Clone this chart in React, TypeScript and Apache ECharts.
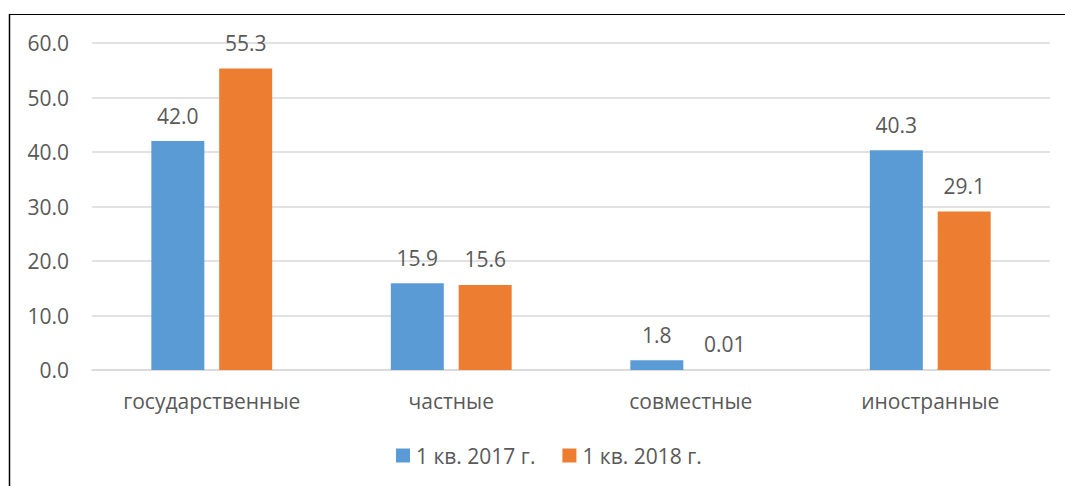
import React, { useEffect, useRef } from "react";
import * as echarts from "echarts";

const categories = ["государственные", "частные", "совместные", "иностранные"];
const values2017 = [42.0, 15.9, 1.8, 40.3];
const values2018 = [55.3, 15.6, 0.01, 29.1];
const seriesNames = ["1 кв. 2017 г.", "1 кв. 2018 г."];
const yTicks = { min: 0, max: 60, interval: 10 };

const FONT = "'Open Sans', sans-serif";
const TEXT = "#595959";
const FS = 21;

export default function App() {
  const ref = useRef<HTMLDivElement>(null);
  useEffect(() => {
    document.body.style.margin = "0";
    const chart = echarts.init(ref.current!, null, { renderer: "svg" });
    const fmt = (v: number) => (v < 0.1 ? v.toFixed(2) : v.toFixed(1));
    const label = {
      show: true,
      position: "top" as const,
      distance: 15,
      color: TEXT,
      fontSize: FS,
      fontFamily: FONT,
      formatter: (p: any) => fmt(p.value),
    };
    chart.setOption({
      animation: false,
      backgroundColor: "#fff",
      textStyle: { fontFamily: FONT },
      grid: { left: 92, right: 15, top: 43, bottom: 116, containLabel: false },
      legend: {
        left: 396,
        top: 445,
        padding: 0,
        itemWidth: 14,
        itemHeight: 14,
        itemGap: 27,
        icon: "rect",
        textStyle: { color: TEXT, fontSize: FS, fontFamily: FONT, padding: [0, 0, 0, 1] },
        data: seriesNames,
      },
      xAxis: {
        type: "category",
        data: categories,
        axisLine: { lineStyle: { color: "#D9D9D9", width: 1.5 } },
        axisTick: { show: false },
        axisLabel: { color: TEXT, fontSize: FS, fontFamily: FONT, margin: 20 },
      },
      yAxis: {
        type: "value",
        min: yTicks.min,
        max: yTicks.max,
        interval: yTicks.interval,
        axisLine: { show: false },
        axisTick: { show: false },
        splitLine: { lineStyle: { color: "#D9D9D9", width: 1.5 } },
        axisLabel: {
          color: TEXT,
          fontSize: FS,
          fontFamily: FONT,
          margin: 23,
          formatter: (v: number) => v.toFixed(1),
        },
      },
      series: [
        {
          name: seriesNames[0],
          type: "bar",
          data: values2017,
          barWidth: 53,
          barGap: "28%",
          itemStyle: { color: "#5B9BD5" },
          label,
        },
        {
          name: seriesNames[1],
          type: "bar",
          data: values2018,
          barWidth: 53,
          itemStyle: { color: "#ED7D31" },
          label,
        },
      ],
      graphic: [
        { type: "line", shape: { x1: 9, y1: 14.5, x2: 1065, y2: 14.5 }, style: { stroke: "#000", lineWidth: 1.2 } },
        { type: "line", shape: { x1: 9.5, y1: 14, x2: 9.5, y2: 486 }, style: { stroke: "#000", lineWidth: 1.5 } },
      ],
    });
    return () => chart.dispose();
  }, []);
  return <div ref={ref} style={{ width: 1065, height: 486 }} />;
}
